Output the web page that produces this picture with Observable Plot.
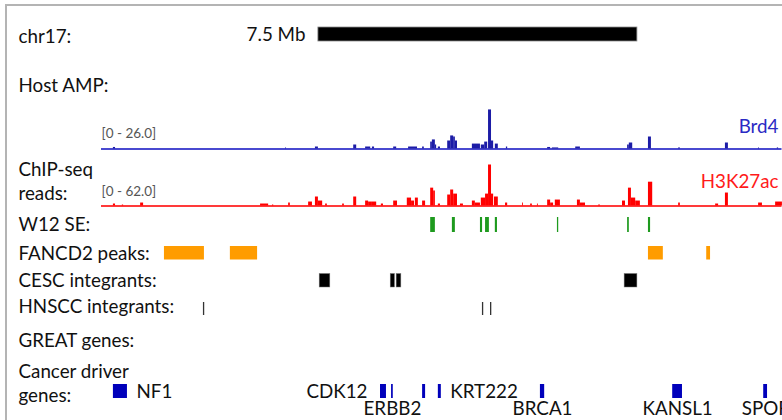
<!DOCTYPE html>
<html><head><meta charset="utf-8">
<script src="https://cdn.jsdelivr.net/npm/d3@7"></script>
<script src="https://cdn.jsdelivr.net/npm/@observablehq/plot@0.6"></script>
<style>
html,body{margin:0;padding:0;background:#fff;}
#chart{position:relative;width:782px;height:420px;overflow:hidden;background:#fff;font-family:Lato,"Open Sans",sans-serif;}
#frame{position:absolute;left:5px;top:4px;width:800px;height:440px;border-top:2px solid #b4b4b4;border-left:2px solid #b4b4b4;}
#chart svg{position:absolute;left:0;top:0;}
</style></head><body><div id="chart"><div id="frame"></div></div>
<script>
// ---------------- data (positions in Mb from the left edge of the view) ----------------
const viewMb = [0, 16];
const scaleBar = {start: 5.10, end: 12.60, label: "7.5 Mb"};
const trackLabels = ["chr17:", "Host AMP:", "ChIP-seq\nreads:", "W12 SE:", "FANCD2 peaks:",
  "CESC integrants:", "HNSCC integrants:", "GREAT genes:", "Cancer driver\ngenes:"];
const brd4Name = "Brd4", brd4Range = [0, 26.0];
const h3k27acName = "H3K27ac", h3k27acRange = [0, 62.0];
// [start, end, value]
const brd4Bins = [[0.28,0.33,1.0],[4.33,4.35,0.7],[5.03,5.10,1.3],[5.93,6.00,2.6],[6.21,6.33,1.3],[6.37,6.42,1.3],
  [6.87,6.94,1.3],[7.22,7.43,1.3],[7.55,7.59,1.3],[7.74,7.78,4.5],[7.78,7.85,5.9],[7.85,7.88,2.6],[7.92,7.97,1.3],
  [8.14,8.21,5.2],[8.21,8.28,8.5],[8.28,8.32,7.8],[8.32,8.37,5.2],[8.72,8.91,3.2],[8.93,9.01,2.6],[9.01,9.08,4.5],
  [9.10,9.17,25.4],[9.17,9.22,5.2],[9.26,9.33,3.2],[9.52,9.55,1.3],[10.49,10.56,1.0],[10.60,10.75,0.7],
  [11.15,11.26,1.3],[12.37,12.41,2.6],[12.41,12.49,3.9],[12.86,12.93,7.8],[13.57,13.61,0.7],[14.67,14.74,3.9],
  [15.45,15.47,0.7],[15.89,15.92,0.7]];
const h3k27acBins = [[0.28,0.33,3],[0.49,0.52,1.5],[0.92,0.99,4.5],[3.74,3.93,3],[4.02,4.05,1.5],[4.40,4.44,4.5],
  [4.87,4.96,6],[5.03,5.10,13.6],[5.10,5.20,7.5],[5.27,5.31,3],[5.67,5.71,3],[5.93,6.00,13.6],[6.21,6.28,7.5],
  [6.28,6.37,6],[6.37,6.47,6],[6.58,6.63,3],[6.87,6.96,7.5],[7.19,7.29,12],[7.29,7.36,7.5],[7.38,7.45,12],
  [7.55,7.62,7.5],[7.74,7.81,27],[7.81,7.85,22.7],[7.92,7.97,3],[8.14,8.21,16.6],[8.21,8.28,24.2],[8.28,8.37,18],
  [8.44,8.51,3],[8.72,8.79,7.5],[8.79,8.91,4.5],[8.93,9.03,12],[9.03,9.10,18],[9.10,9.17,62],[9.17,9.22,18],
  [9.24,9.33,13.6],[9.50,9.55,4.5],[9.90,9.92,4.5],[10.09,10.13,3],[10.25,10.27,3],[10.49,10.56,9],[10.56,10.63,4.5],
  [10.67,10.79,9],[11.19,11.26,9],[11.26,11.38,4.5],[11.69,11.73,1.5],[12.25,12.32,7.5],[12.39,12.46,27],
  [12.46,12.56,12],[12.56,12.67,7.5],[12.86,12.96,36],[13.57,13.61,4.5],[14.44,14.51,3],[14.67,14.74,19.6],
  [15.45,15.54,4.5],[15.85,16.01,6]];
// [start, end]
const w12SE = [[7.74,7.85],[8.25,8.32],[8.91,8.96],[9.03,9.12],[9.26,9.31],[10.72,10.75],[12.37,12.41],[12.86,12.91]];
const fancd2Peaks = [[1.48,2.42],[3.03,3.67],[12.86,13.21],[14.23,14.32]];
const cescIntegrants = [[5.13,5.38],[6.80,6.90],[6.94,7.05],[12.30,12.60]];
const hnsccIntegrants = [2.40, 8.96, 9.15];
const geneNames = ["NF1", "CDK12", "ERBB2", "", "KRT222", "BRCA1", "KANSL1", "SPOP"];
const geneStart = [0.28, 6.56, 6.82, 7.55, 7.92, 10.32, 13.43, 15.57];
const geneEnd   = [0.61, 6.70, 6.86, 7.62, 7.99, 10.42, 13.66, 15.66];
const geneLabelSide = ["right", "left", "below", "none", "right", "below", "below", "below"];

// ---------------- layout ----------------
const W = 782, H = 420, FS = 18.8;
const labelY = [34.5, 84, 179.5, 222.5, 251.5, 278.5, 304.5, 339, 381.5];
const genes = geneNames.map((name, i) => ({name, start: geneStart[i], end: geneEnd[i], side: geneLabelSide[i]}));
const chart = document.getElementById("chart");
function layer(opts) {
  const p = Plot.plot({
    width: W, height: H, margin: 0,
    x: {domain: viewMb, range: [101, 781.5], axis: null},
    style: {background: "transparent", fontFamily: "Lato, 'Open Sans', sans-serif", overflow: "visible"},
    ...opts
  });
  chart.appendChild(p);
}
const rangeLabel = r => `[${r[0]} - ${r[1].toFixed(1)}]`;

// main annotation layer
layer({
  y: {type: "identity", axis: null},
  marks: [
    Plot.rect([scaleBar], {x1: "start", x2: "end", y1: 27, y2: 41, fill: "#000", stroke: "#8a8a8a", strokeWidth: 0.8}),
    Plot.text([scaleBar], {x: "start", y: 34.5, text: "label", textAnchor: "end", dx: -13, fontSize: FS, fill: "#111"}),
    Plot.text(trackLabels, {text: d => d, y: (d, i) => labelY[i], frameAnchor: "left", dx: 18, textAnchor: "start",
      lineAnchor: "middle", lineHeight: 1.3, fontSize: FS, fill: "#111"}),
    Plot.text([rangeLabel(brd4Range)], {text: d => d, x: viewMb[0], y: 133.5, textAnchor: "start", fontSize: 13.5, fill: "#555"}),
    Plot.text([rangeLabel(h3k27acRange)], {text: d => d, x: viewMb[0], y: 191.5, textAnchor: "start", fontSize: 13.5, fill: "#555"}),
    Plot.text([brd4Name], {text: d => d, frameAnchor: "right", dx: -4, y: 126, textAnchor: "end", fontSize: FS, fill: "#2a2ac4"}),
    Plot.text([h3k27acName], {text: d => d, frameAnchor: "right", dx: -4, y: 181, textAnchor: "end", fontSize: FS, fill: "#ff1a1a"}),
    Plot.rect(w12SE, {x1: d => d[0], x2: d => d[1], y1: 217, y2: 232, fill: "#1e9a1e"}),
    Plot.rect(fancd2Peaks, {x1: d => d[0], x2: d => d[1], y1: 246, y2: 259.5, fill: "#ff9c00"}),
    Plot.rect(cescIntegrants, {x1: d => d[0], x2: d => d[1], y1: 273.5, y2: 287, fill: "#000", stroke: "#777", strokeWidth: 0.5}),
    Plot.ruleX(hnsccIntegrants, {x: d => d, y1: 302, y2: 315, stroke: "#333", strokeWidth: 1.3}),
    Plot.rect(genes, {x1: "start", x2: "end", y1: 384, y2: 398, fill: "#0000bb"}),
    Plot.text(genes.filter(g => g.side === "right"), {x: "end", y: 391, text: "name", dx: 9, textAnchor: "start", fontSize: FS, fill: "#111"}),
    Plot.text(genes.filter(g => g.side === "left"), {x: "start", y: 391, text: "name", dx: -13, textAnchor: "end", fontSize: FS, fill: "#111"}),
    Plot.text(genes.filter(g => g.side === "below"), {x: g => (g.start + g.end) / 2, y: 408, text: "name", textAnchor: "middle", fontSize: FS, fill: "#111"})
  ]
});

// Brd4 signal
layer({
  y: {domain: brd4Range, range: [148.5, 108.5], axis: null},
  marks: [
    Plot.ruleY([0], {x1: viewMb[0], x2: viewMb[1], stroke: "#4a4ad0", strokeWidth: 2}),
    Plot.rect(brd4Bins, {x1: d => d[0], x2: d => d[1], y1: 0, y2: d => d[2], fill: "#1c1ca6"})
  ]
});

// H3K27ac signal
layer({
  y: {domain: h3k27acRange, range: [205.5, 164.5], axis: null},
  marks: [
    Plot.ruleY([0], {x1: viewMb[0], x2: viewMb[1], stroke: "#ff3a3a", strokeWidth: 2}),
    Plot.rect(h3k27acBins, {x1: d => d[0], x2: d => d[1], y1: 0, y2: d => d[2], fill: "#ff0000"})
  ]
});
</script></body></html>
